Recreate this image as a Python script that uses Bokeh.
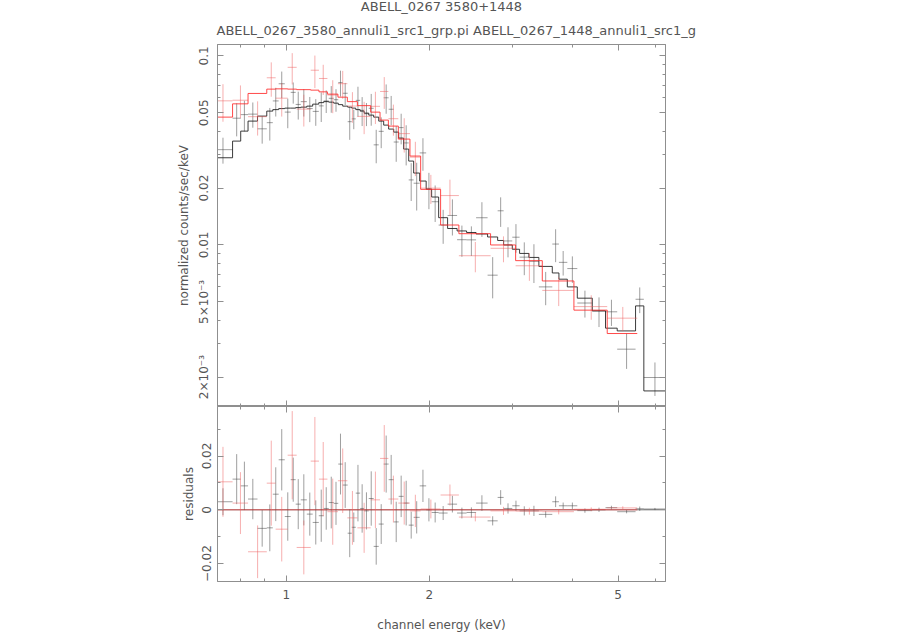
import numpy as np
from bokeh.plotting import figure
from bokeh.models import Range1d, FixedTicker, LogAxis, LinearAxis, CustomJSTickFormatter, Title
from bokeh.layouts import column
from bokeh.embed import file_html
from bokeh.resources import INLINE

# ---------------- data ----------------
title_text = "ABELL_0267 3580+1448"
subtitle_text = "ABELL_0267_3580_annuli1_src1_grp.pi ABELL_0267_1448_annuli1_src1_g"

# dataset 1 (black): ABELL_0267_3580
black_edges = [0.700, 0.770, 0.801, 0.830, 0.869, 0.909, 0.936, 0.963, 0.992, 1.021,
               1.046, 1.072, 1.104, 1.136, 1.170, 1.198, 1.228, 1.258, 1.286, 1.314,
               1.346, 1.373, 1.400, 1.430, 1.458, 1.491, 1.527, 1.565, 1.603, 1.642,
               1.683, 1.724, 1.766, 1.810, 1.854, 1.909, 1.970, 2.023, 2.093, 2.186,
               2.289, 2.397, 2.510, 2.654, 2.787, 2.869, 2.992, 3.100, 3.243, 3.404,
               3.633, 3.752, 3.908, 4.102, 4.411, 4.704, 4.978, 5.442, 5.665, 6.293]
black_model = [0.02892, 0.03543, 0.04001, 0.04520, 0.04804, 0.05105, 0.05199, 0.05263, 0.05294, 0.05294,
               0.05327, 0.05358, 0.05424, 0.05557, 0.05660, 0.05729, 0.05694, 0.05625, 0.05524, 0.05424,
               0.05358, 0.05294, 0.05199, 0.05105, 0.04982, 0.04862, 0.04745, 0.04520, 0.04304, 0.04101,
               0.03953, 0.03675, 0.03215, 0.02778, 0.02401, 0.02178, 0.01976, 0.01793, 0.01394, 0.01222,
               0.01186, 0.01164, 0.01143, 0.01102, 0.01056, 0.01000, 0.00949, 0.00902, 0.00859, 0.00770,
               0.00711, 0.00659, 0.00600, 0.00523, 0.00448, 0.00363, 0.00351, 0.00476, 0.00169]
black_resid = [0.0030, 0.0114, 0.0089, 0.0040, -0.0069, -0.0067, 0.0058, 0.0186, -0.0025, 0.0112,
               0.0021, 0.0037, -0.0016, -0.0047, -0.0022, 0.0005, 0.0027, 0.0024, 0.0170, 0.0092,
               -0.0087, -0.0065, 0.0062, 0.0005, -0.0004, 0.0042, -0.0136, -0.0053, 0.0170, 0.0112,
               -0.0045, 0.0050, 0.0025, -0.0057, -0.0028, 0.0089, 0.0000, -0.0010, -0.0012, 0.0021,
               -0.0012, -0.0010, 0.0025, -0.0041, 0.0046, 0.0005, 0.0015, -0.0004, -0.0004, -0.0017,
               0.0030, 0.0015, 0.0015, -0.0003, 0.0000, 0.0008, -0.0007, 0.0004, 0.0003]
black_err = [0.0050, 0.0093, 0.0090, 0.0075, 0.0068, 0.0087, 0.0100, 0.0114, 0.0090, 0.0082,
             0.0093, 0.0095, 0.0080, 0.0082, 0.0097, 0.0079, 0.0096, 0.0080, 0.0113, 0.0085,
             0.0089, 0.0055, 0.0105, 0.0090, 0.0069, 0.0101, 0.0068, 0.0074, 0.0106, 0.0092,
             0.0075, 0.0077, 0.0083, 0.0050, 0.0060, 0.0060, 0.0043, 0.0037, 0.0026, 0.0031,
             0.0020, 0.0019, 0.0029, 0.0017, 0.0027, 0.0019, 0.0019, 0.0017, 0.0019, 0.0012,
             0.0020, 0.0012, 0.0012, 0.0008, 0.0008, 0.0007, 0.0006, 0.0008, 0.0004]

# dataset 2 (red): ABELL_0267_1448
red_edges = [0.700, 0.770, 0.830, 0.909, 0.949, 1.006, 1.051, 1.125, 1.171, 1.220,
             1.284, 1.344, 1.411, 1.505, 1.575, 1.640, 1.721, 1.821, 1.918, 2.113,
             2.309, 2.693, 3.041, 3.461, 4.035, 4.743, 5.487]
red_model = [0.04745, 0.05578, 0.06330, 0.06672, 0.06696, 0.06672, 0.06630, 0.06590, 0.06455, 0.06277,
             0.06050, 0.05729, 0.05456, 0.05042, 0.04575, 0.04254, 0.03631, 0.02953, 0.01968, 0.01275,
             0.01147, 0.01000, 0.00826, 0.00645, 0.00452, 0.00340]
red_resid = [0.0104, 0.0025, -0.0156, 0.0099, -0.0072, 0.0203, -0.0140, 0.0181, 0.0114, -0.0007,
             0.0108, -0.0030, -0.0067, 0.0037, 0.0191, 0.0040, 0.0025, -0.0004, 0.0003, 0.0055,
             -0.0027, -0.0004, -0.0005, -0.0007, 0.0002, 0.0007]
red_err = [0.0130, 0.0115, 0.0098, 0.0158, 0.0120, 0.0164, 0.0100, 0.0164, 0.0138, 0.0123,
           0.0120, 0.0100, 0.0093, 0.0105, 0.0124, 0.0087, 0.0080, 0.0060, 0.0035, 0.0039,
           0.0016, 0.0015, 0.0013, 0.0010, 0.0007, 0.0006]

x_ticks = [1, 2, 5]
x_minor = [0.8, 0.9, 3, 4, 6]
flux_ticks = [0.002, 0.005, 0.01, 0.02, 0.05, 0.1]
flux_minor = [0.002, 0.003, 0.004, 0.005, 0.006, 0.007, 0.008, 0.009,
              0.01, 0.02, 0.03, 0.04, 0.05, 0.06, 0.07, 0.08, 0.09, 0.1]
res_ticks = [-0.02, 0.0, 0.02]
res_minor = [-0.01, 0.01, 0.03]

# ---------------- styling ----------------
FRAME = "#8f8f8f"
TEXT = "#555555"
FONT = "DejaVu Sans"

x_range = Range1d(0.7157, 6.293)


def style_axis(ax, labels=True):
    ax.axis_line_color = FRAME
    ax.major_tick_line_color = FRAME
    ax.minor_tick_line_color = FRAME
    ax.major_tick_in = 6
    ax.major_tick_out = 0
    ax.minor_tick_in = 3
    ax.minor_tick_out = 0
    ax.major_label_text_font = FONT
    ax.major_label_text_color = TEXT
    ax.axis_label_text_font = FONT
    ax.axis_label_text_color = TEXT
    ax.axis_label_text_font_style = "normal"
    ax.axis_label_text_font_size = "12px"
    if labels:
        ax.major_label_text_font_size = "12px"
    else:
        ax.major_label_text_font_size = "0px"
        ax.major_label_standoff = 0


def steps(edges, vals):
    e = np.asarray(edges)
    v = np.asarray(vals)
    return np.repeat(e, 2)[1:-1], np.repeat(v, 2)


flux_fmt = CustomJSTickFormatter(code="""
if (tick < 0.0095) { return Math.round(tick * 1000) + '\u00d710\u207b\u00b3'; }
return String(Math.round(tick * 100) / 100);
""")
res_fmt = CustomJSTickFormatter(code="""
if (Math.abs(tick) < 1e-9) { return '0'; }
return (tick < 0 ? '\u2212' : '') + Math.abs(tick).toFixed(2);
""")

# ---------------- top panel: spectrum ----------------
p1 = figure(width=900, height=406, x_axis_type="log", y_axis_type="log",
            x_range=x_range, y_range=Range1d(0.001398, 0.1149),
            x_axis_location=None, y_axis_location=None,
            output_backend="svg", toolbar_location=None,
            min_border_left=217, min_border_right=235, min_border_top=0, min_border_bottom=0,
            background_fill_color=None, border_fill_color=None,
            outline_line_color=FRAME, outline_line_width=1)
p1.grid.visible = False

yl = LogAxis(ticker=FixedTicker(ticks=flux_ticks, minor_ticks=flux_minor), formatter=flux_fmt,
             axis_label="normalized counts/sec/keV")
style_axis(yl)
yl.major_label_orientation = "vertical"
yl.major_label_standoff = 6
yl.axis_label_standoff = 4
p1.add_layout(yl, "left")
yr = LogAxis(ticker=FixedTicker(ticks=flux_ticks, minor_ticks=flux_minor))
style_axis(yr, labels=False)
p1.add_layout(yr, "right")
xa = LogAxis(ticker=FixedTicker(ticks=x_ticks, minor_ticks=x_minor))
style_axis(xa, labels=False)
p1.add_layout(xa, "above")
xb = LogAxis(ticker=FixedTicker(ticks=x_ticks, minor_ticks=x_minor))
style_axis(xb, labels=False)
p1.add_layout(xb, "below")

# titles (first added sits closest to the frame)
p1.add_layout(Title(text=subtitle_text, align="left", text_font=FONT, text_font_size="13px",
                    text_font_style="normal", text_color=TEXT, standoff=13, offset=-1), "above")
p1.add_layout(Title(text=title_text, align="center", text_font=FONT, text_font_size="13px",
                    text_font_style="normal", text_color=TEXT, standoff=-3, offset=-4,
                    vertical_align="top"), "above")

# ---------------- bottom panel: residuals ----------------
p2 = figure(width=900, height=234, x_axis_type="log",
            x_range=x_range, y_range=Range1d(-0.02665, 0.0384),
            x_axis_location=None, y_axis_location=None,
            output_backend="svg", toolbar_location=None,
            min_border_left=217, min_border_right=235, min_border_top=0, min_border_bottom=59,
            background_fill_color=None, border_fill_color=None,
            outline_line_color=FRAME, outline_line_width=1)
p2.grid.visible = False

rl = LinearAxis(ticker=FixedTicker(ticks=res_ticks, minor_ticks=res_minor), formatter=res_fmt,
                axis_label="residuals")
style_axis(rl)
rl.major_label_orientation = "vertical"
rl.major_label_standoff = 6
rl.axis_label_standoff = 4
p2.add_layout(rl, "left")
rr = LinearAxis(ticker=FixedTicker(ticks=res_ticks, minor_ticks=res_minor))
style_axis(rr, labels=False)
p2.add_layout(rr, "right")
xt = LogAxis(ticker=FixedTicker(ticks=x_ticks, minor_ticks=x_minor))
style_axis(xt, labels=False)
p2.add_layout(xt, "above")
xbot = LogAxis(ticker=FixedTicker(ticks=x_ticks, minor_ticks=x_minor), axis_label="channel energy (keV)")
style_axis(xbot)
xbot.major_label_standoff = 8
xbot.axis_label_standoff = 16
p2.add_layout(xbot, "below")

# ---------------- draw both datasets ----------------
sets = [
    (black_edges, black_model, black_resid, black_err, "#404040", "#1a1a1a"),
    (red_edges, red_model, red_resid, red_err, "#f06060", "#ff2a2a"),
]
for edges, model, resid, err, dcol, mcol in sets:
    e = np.asarray(edges)
    lo, hi = e[:-1], e[1:]
    cen = (lo + hi) / 2
    m = np.asarray(model)
    r = np.asarray(resid)
    s = np.asarray(err)
    d = m + r
    # spectrum panel
    p1.segment(x0=lo, x1=hi, y0=d, y1=d, line_color=dcol, line_alpha=0.5, line_width=1)
    p1.segment(x0=cen, x1=cen, y0=d - s, y1=d + s, line_color=dcol, line_alpha=0.5, line_width=1)
    sx, sy = steps(edges, model)
    p1.line(sx, sy, line_color=mcol, line_alpha=0.85, line_width=1)
    # residual panel
    p2.line([e[0], e[-1]], [0, 0], line_color=mcol, line_alpha=0.6, line_width=1)
    p2.segment(x0=lo, x1=hi, y0=r, y1=r, line_color=dcol, line_alpha=0.5, line_width=1)
    p2.segment(x0=cen, x1=cen, y0=r - s, y1=r + s, line_color=dcol, line_alpha=0.5, line_width=1)

layout = column(p1, p2)

open("out.html", "w").write(file_html(layout, INLINE))
